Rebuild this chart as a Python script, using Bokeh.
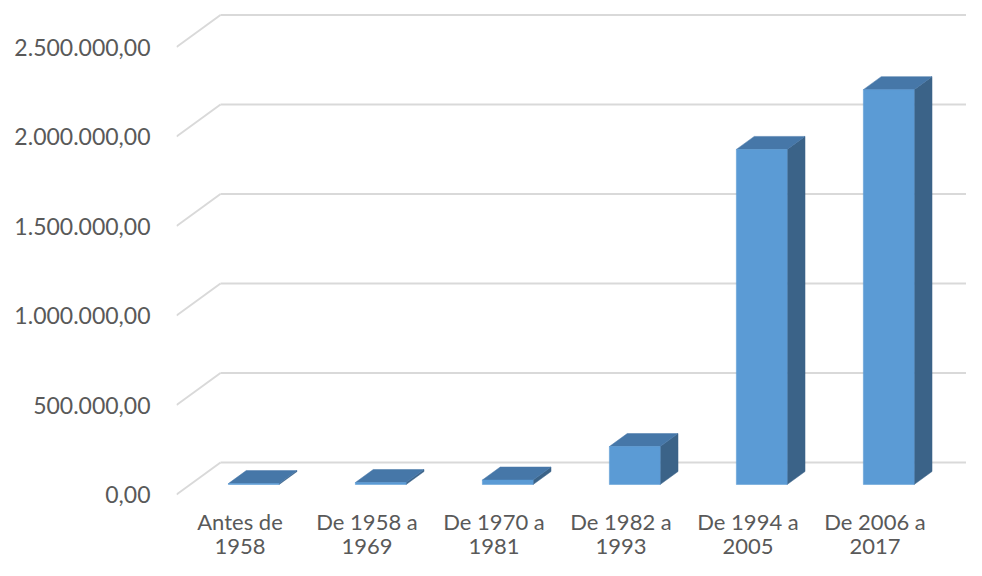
from bokeh.plotting import figure
from bokeh.models import FixedTicker, Range1d
from bokeh.core.properties import value
from bokeh.embed import file_html
from bokeh.resources import INLINE

# ---- data ----
categories = ["Antes de\n1958", "De 1958 a\n1969", "De 1970 a\n1981",
              "De 1982 a\n1993", "De 1994 a\n2005", "De 2006 a\n2017"]
values = [5000, 11000, 25000, 212000, 1872000, 2206000]
y_ticks = [0, 500000, 1000000, 1500000, 2000000, 2500000]
y_tick_labels = ["0,00", "500.000,00", "1.000.000,00", "1.500.000,00",
                 "2.000.000,00", "2.500.000,00"]

# ---- layout / 3D projection constants ----
W, H = 966, 560
BL = 176
PX_PER_VAL = 179e-6
PX_PER_CAT = 127.0
frame_w = W - BL
frame_h = H
DX = 44 / PX_PER_CAT          # floor depth in category units
DY = 32 / PX_PER_VAL          # floor depth in value units
F0, F1 = 10 / 32, 23 / 32     # bar depth position (fraction of floor depth)
BAR_W = 0.4
zero_off = 66 / PX_PER_VAL    # room below the floor for category labels
x0 = -0.5

FONT = "Lato"
TXT = "#595959"

p = figure(width=W, height=H, output_backend="svg", toolbar_location=None,
           x_range=Range1d(x0, x0 + frame_w / PX_PER_CAT),
           y_range=Range1d(-zero_off, -zero_off + frame_h / PX_PER_VAL),
           min_border_left=BL, min_border_right=0, min_border_top=0,
           min_border_bottom=0)
p.outline_line_color = None
p.background_fill_color = "white"
p.border_fill_color = "white"
p.xgrid.visible = False
p.ygrid.visible = False
p.xaxis.visible = False

# gridlines (back wall + left side diagonals)
n = len(categories)
p.segment(x0=[x0] * len(y_ticks), y0=y_ticks,
          x1=[x0 + DX] * len(y_ticks), y1=[v + DY for v in y_ticks],
          line_color="#D9D9D9", line_width=2)
p.segment(x0=[x0 + DX] * len(y_ticks), y0=[v + DY for v in y_ticks],
          x1=[n + 1.0] * len(y_ticks), y1=[v + DY for v in y_ticks],
          line_color="#D9D9D9", line_width=2)

# bars
front_l, front_r, front_b, front_t = [], [], [], []
top_xs, top_ys, side_xs, side_ys = [], [], [], []
for i, v in enumerate(values):
    xl = i - BAR_W / 2
    xr = i + BAR_W / 2
    ax, ay = F0 * DX, F0 * DY
    bx, by = F1 * DX, F1 * DY
    front_l.append(xl + ax); front_r.append(xr + ax)
    front_b.append(ay); front_t.append(v + ay)
    top_xs.append([xl + ax, xr + ax, xr + bx, xl + bx])
    top_ys.append([v + ay, v + ay, v + by, v + by])
    side_xs.append([xr + ax, xr + bx, xr + bx, xr + ax])
    side_ys.append([ay, by, v + by, v + ay])

p.patches(side_xs, side_ys, fill_color="#3B6388", line_color="#3B6388", line_width=0.5)
p.patches(top_xs, top_ys, fill_color="#4677A8", line_color="#4677A8", line_width=0.5)
p.quad(left=front_l, right=front_r, bottom=front_b, top=front_t,
       fill_color="#5B9BD5", line_color="#5B9BD5", line_width=0.5)

# category labels (two lines, below the floor's front edge)
line1 = [c.split("\n")[0] for c in categories]
line2 = [c.split("\n")[1] for c in categories]
xs = list(range(n))
for txt, off in ((line1, 27), (line2, 52)):
    p.text(x=xs, y=[-off / PX_PER_VAL] * n, text=txt,
           text_font=value(FONT), text_font_size="22px", text_color=TXT,
           text_align="center", text_baseline="middle")

# value axis
p.yaxis.ticker = FixedTicker(ticks=y_ticks)
p.yaxis.major_label_overrides = dict(zip(y_ticks, y_tick_labels))
p.yaxis.axis_line_color = None
p.yaxis.major_tick_line_color = None
p.yaxis.minor_tick_line_color = None
p.yaxis.major_tick_out = 0
p.yaxis.major_tick_in = 0
p.yaxis.major_label_text_font = FONT
p.yaxis.major_label_text_font_size = "23px"
p.yaxis.major_label_text_color = TXT
p.yaxis.major_label_standoff = 26

open("out.html", "w").write(file_html(p, INLINE))
